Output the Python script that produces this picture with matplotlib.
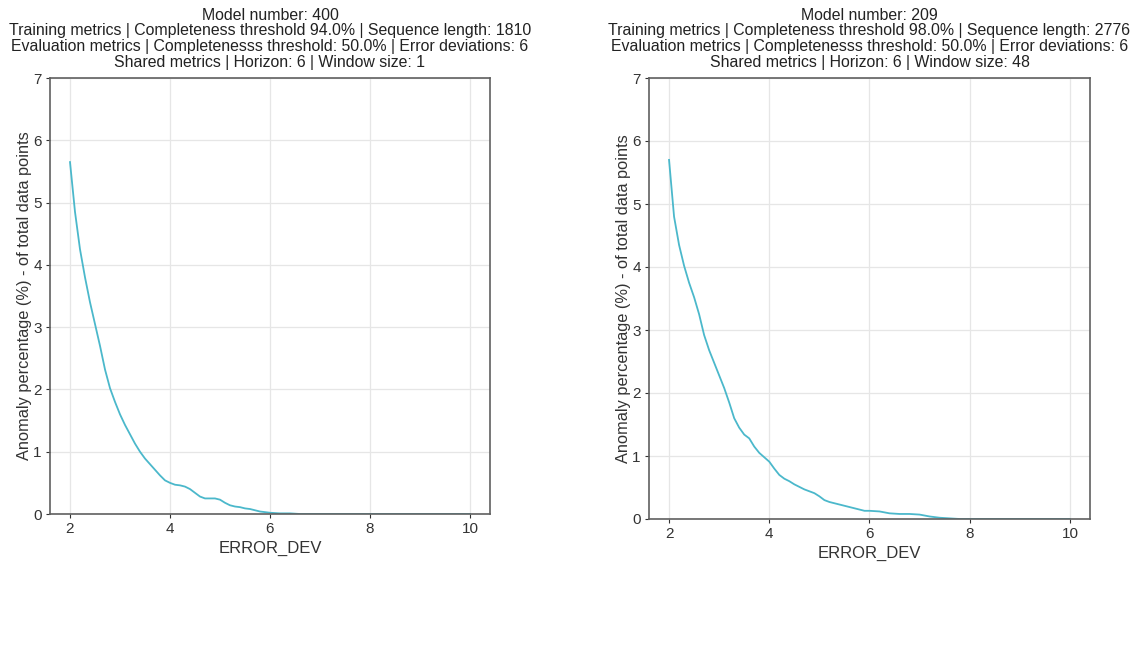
import numpy as np
import matplotlib
matplotlib.use("Agg")
import matplotlib.pyplot as plt

plt.rcParams['font.family'] = ['Liberation Sans', 'DejaVu Sans']

# Error deviation thresholds (x) and anomaly percentages (y) per model
left_x = [2.0, 2.1, 2.2, 2.3, 2.4, 2.5, 2.6, 2.7, 2.8, 2.9,
          3.0, 3.1, 3.2, 3.3, 3.4, 3.5, 3.6, 3.7, 3.8, 3.9,
          4.0, 4.1, 4.2, 4.3, 4.4, 4.5, 4.6, 4.7, 4.8, 4.9,
          5.0, 5.1, 5.2, 5.3, 5.4, 5.5, 5.6, 5.7, 5.8, 5.9,
          6.0, 6.2, 6.4, 6.6, 7.0, 8.0, 9.0, 10.0]
left_y = [5.65, 4.85, 4.25, 3.80, 3.40, 3.05, 2.70, 2.32, 2.02, 1.80,
          1.60, 1.43, 1.28, 1.13, 1.00, 0.89, 0.80, 0.71, 0.62, 0.54,
          0.50, 0.47, 0.46, 0.44, 0.40, 0.34, 0.28, 0.25, 0.25, 0.25,
          0.23, 0.18, 0.14, 0.12, 0.11, 0.09, 0.08, 0.06, 0.04, 0.03,
          0.02, 0.01, 0.01, 0.0, 0.0, 0.0, 0.0, 0.0]

right_x = [2.0, 2.1, 2.2, 2.3, 2.4, 2.5, 2.6, 2.7, 2.8, 2.9,
           3.0, 3.1, 3.2, 3.3, 3.4, 3.5, 3.6, 3.7, 3.8, 3.9,
           4.0, 4.1, 4.2, 4.3, 4.4, 4.5, 4.6, 4.7, 4.8, 4.9,
           5.0, 5.1, 5.2, 5.3, 5.4, 5.5, 5.6, 5.7, 5.8, 5.9,
           6.0, 6.2, 6.4, 6.6, 6.8, 7.0, 7.2, 7.4, 7.6, 7.8,
           8.0, 9.0, 10.0]
right_y = [5.70, 4.80, 4.35, 4.02, 3.75, 3.52, 3.25, 2.92, 2.68, 2.48,
           2.28, 2.08, 1.85, 1.60, 1.45, 1.34, 1.28, 1.15, 1.05, 0.98,
           0.91, 0.80, 0.70, 0.64, 0.60, 0.55, 0.51, 0.47, 0.44, 0.41,
           0.36, 0.30, 0.27, 0.25, 0.23, 0.21, 0.19, 0.17, 0.15, 0.13,
           0.13, 0.12, 0.09, 0.08, 0.08, 0.07, 0.04, 0.02, 0.01, 0.0,
           0.0, 0.0, 0.0]

left_title = ("Model number: 400\n"
              "Training metrics | Completeness threshold 94.0% | Sequence length: 1810\n"
              "Evaluation metrics | Completenesss threshold: 50.0% | Error deviations: 6\n"
              "Shared metrics | Horizon: 6 | Window size: 1")
right_title = ("Model number: 209\n"
               "Training metrics | Completeness threshold 98.0% | Sequence length: 2776\n"
               "Evaluation metrics | Completenesss threshold: 50.0% | Error deviations: 6\n"
               "Shared metrics | Horizon: 6 | Window size: 48")

y_ticks = [0, 1, 2, 3, 4, 5, 6, 7]
x_ticks = [2, 4, 6, 8, 10]

W, H = 1145, 671
fig = plt.figure(figsize=(W / 100, H / 100), dpi=100)

# axes boxes in pixels: left, top, right, bottom
boxes = [(50, 78, 490, 514), (649, 78, 1090, 519)]
panels = [(left_x, left_y, left_title), (right_x, right_y, right_title)]

for (l, t, r, b), (xs, ys, title) in zip(boxes, panels):
    ax = fig.add_axes([l / W, (H - b) / H, (r - l) / W, (b - t) / H])
    ax.plot(xs, ys, color='#4bb8cb', linewidth=1.3)
    ax.set_ylim(0, 7)
    ax.set_xlim(1.6, 10.4)
    ax.set_yticks(y_ticks)
    ax.set_xticks(x_ticks)
    ax.grid(True, color='#e6e6e6', linewidth=0.9)
    ax.set_axisbelow(True)
    for sp in ax.spines.values():
        sp.set_color('#606060')
        sp.set_linewidth(1.2)
    ax.tick_params(labelsize=11, colors='#333333', length=3, width=0.8, pad=3)
    ax.set_xlabel('ERROR_DEV', fontsize=12, color='#333333', labelpad=3)
    ax.set_ylabel('Anomaly percentage (%) - of total data points', fontsize=11.8,
                  color='#333333', labelpad=1)
    ax.set_title(title, fontsize=11.4, color='#222222', pad=8, linespacing=1.06)

fig.savefig('out.png', dpi=100, facecolor='white')
